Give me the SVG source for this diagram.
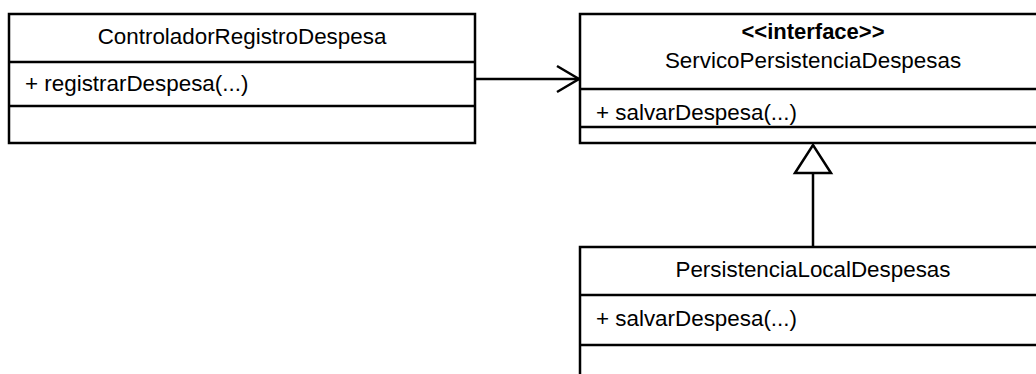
<svg xmlns="http://www.w3.org/2000/svg" width="1036" height="374" viewBox="0 0 1036 374">
  <style>
    .box { fill: #ffffff; stroke: #000000; stroke-width: 2.5; }
    .div { stroke: #000000; stroke-width: 2.5; }
    .name { font-family: "Liberation Sans", Arial, sans-serif; font-size: 22.4px; fill: #000000; text-anchor: middle; }
    .stereo { font-family: "Liberation Sans", Arial, sans-serif; font-size: 22px; font-weight: bold; fill: #000000; text-anchor: middle; }
    .member { font-family: "Liberation Sans", Arial, sans-serif; font-size: 22.4px; fill: #000000; }
    .edge { fill: none; stroke: #000000; stroke-width: 2.5; }
  </style>
  <defs>
    <!-- open arrowhead for the dependency -->
    <marker id="open-arrow" markerWidth="30" markerHeight="32" refX="23" refY="15" orient="auto" markerUnits="userSpaceOnUse" overflow="visible">
      <path d="M1,2 L23,15 L1,28" fill="none" stroke="#000000" stroke-width="2.5"/>
    </marker>
    <!-- hollow triangle for realization -->
    <marker id="hollow-triangle" markerWidth="32" markerHeight="40" refX="28" refY="18" orient="auto" markerUnits="userSpaceOnUse" overflow="visible">
      <path d="M0,0 L28,18 L0,36 Z" fill="#ffffff" stroke="#000000" stroke-width="2.5" stroke-linejoin="miter"/>
    </marker>
  </defs>
  <rect width="1036" height="374" fill="#ffffff"/>

  <g id="connectors">
    <line class="edge" x1="475" y1="79" x2="579" y2="79" marker-end="url(#open-arrow)"/>
    <line class="edge" x1="813" y1="247" x2="813" y2="145" marker-end="url(#hollow-triangle)"/>
  </g>

  <g id="ControladorRegistroDespesa">
    <rect class="box" x="9" y="14" width="466" height="129"/>
    <line class="div" x1="9" y1="62" x2="475" y2="62"/>
    <line class="div" x1="9" y1="106" x2="475" y2="106"/>
    <text class="name" x="242" y="44">ControladorRegistroDespesa</text>
    <text class="member" x="25" y="91">+ registrarDespesa(...)</text>
  </g>

  <g id="ServicoPersistenciaDespesas">
    <rect class="box" x="580" y="14" width="466" height="129"/>
    <line class="div" x1="580" y1="89" x2="1046" y2="89"/>
    <line class="div" x1="580" y1="127" x2="1046" y2="127"/>
    <text class="stereo" x="813" y="39">&lt;&lt;interface&gt;&gt;</text>
    <text class="name" x="813" y="68">ServicoPersistenciaDespesas</text>
    <text class="member" x="596" y="120">+ salvarDespesa(...)</text>
  </g>

  <g id="PersistenciaLocalDespesas">
    <rect class="box" x="580" y="247" width="466" height="140"/>
    <line class="div" x1="580" y1="295" x2="1046" y2="295"/>
    <line class="div" x1="580" y1="345" x2="1046" y2="345"/>
    <text class="name" x="813" y="277">PersistenciaLocalDespesas</text>
    <text class="member" x="596" y="326">+ salvarDespesa(...)</text>
  </g>
</svg>
